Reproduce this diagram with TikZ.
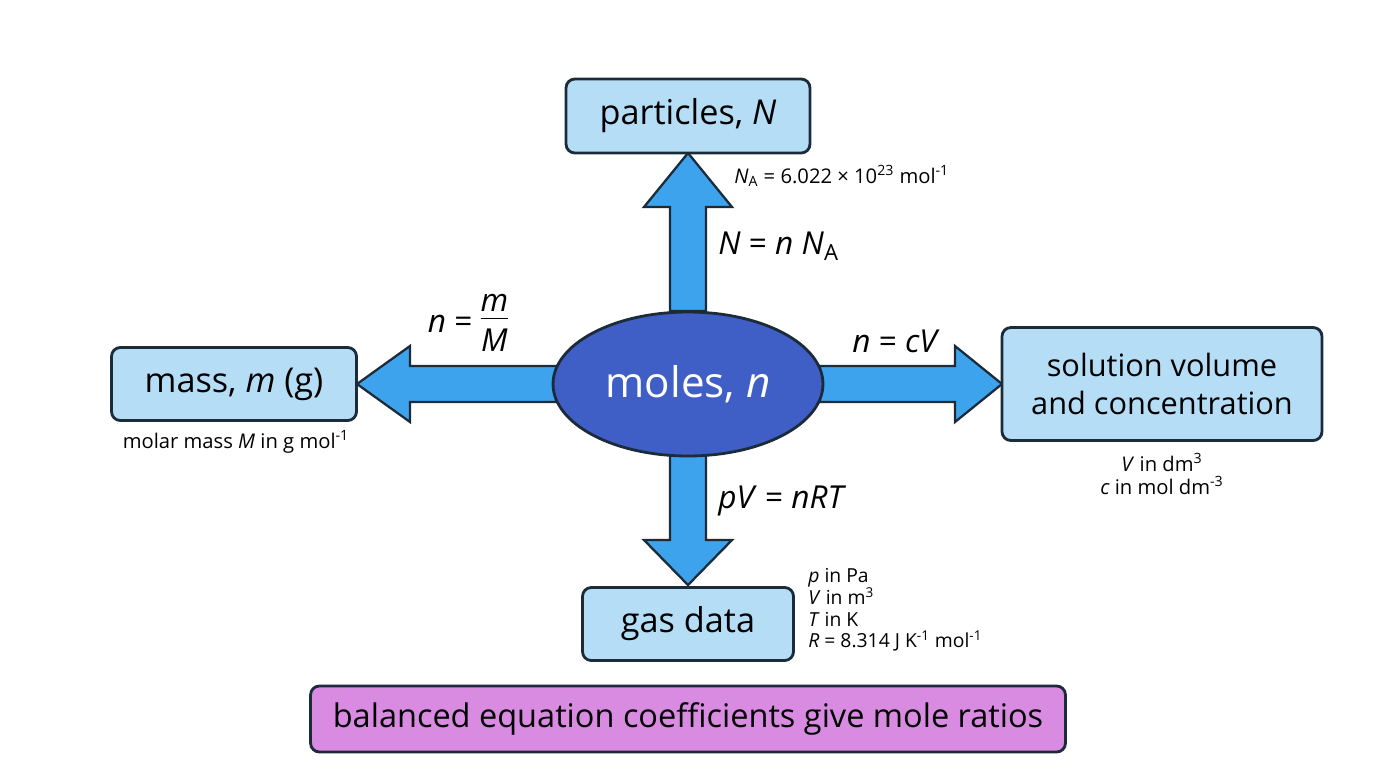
\documentclass[tikz,border=0pt]{standalone}
\usepackage{fontspec}
\setmainfont{Open Sans}
\usetikzlibrary{positioning,shapes.geometric}
\definecolor{boxfill}{HTML}{B5DDF6}
\definecolor{edge}{HTML}{1C2B3A}
\definecolor{molefill}{HTML}{3F5FC6}
\definecolor{arrowfill}{HTML}{3DA3EC}
\definecolor{ratiofill}{HTML}{D98BE2}
\tikzset{
 box/.style={draw=edge,line width=1.6pt,rounded corners=5pt,fill=boxfill,font=\fontsize{19.5}{23}\selectfont,align=center,inner sep=0pt},
 note/.style={font=\fontsize{11.5}{13}\selectfont,align=left,inner sep=0pt},
 eqn/.style={font=\fontsize{18}{21}\selectfont,inner sep=0pt},
 blockarrow/.style={draw=edge,line width=1.3pt,fill=arrowfill,line join=miter}
}
\begin{document}
\begin{tikzpicture}[x=0.02cm,y=-0.02cm]
 \useasboundingbox (0,0) rectangle (1376,768);
 % block arrows
 \draw[blockarrow](670,311)--(670,207)--(644,207)--(688,153)--(732,207)--(706,207)--(706,311)--cycle;
 \draw[blockarrow](556,366)--(410,366)--(410,346)--(357,384)--(410,422)--(410,402)--(556,402)--cycle;
 \draw[blockarrow](820,366)--(955,366)--(955,346)--(1002,384)--(955,422)--(955,402)--(820,402)--cycle;
 \draw[blockarrow](670,454)--(670,540)--(644,540)--(688,585)--(732,540)--(706,540)--(706,454)--cycle;
 % nodes
 \node[ellipse,draw=edge,line width=1.6pt,fill=molefill,minimum width=5.4cm,minimum height=2.88cm,inner sep=0pt,text=white,font=\fontsize{24}{28}\selectfont] (moles) at (688,384) {moles, \textit{n}};
 \node[box,minimum width=4.88cm,minimum height=1.48cm] (particles) at (688,116) {particles, \textit{N}};
 \node[box,minimum width=4.9cm,minimum height=1.46cm] (mass) at (234,384) {mass, \textit{m} (g)};
 \node[box,font=\fontsize{17.5}{22}\selectfont,minimum width=6.4cm,minimum height=2.26cm] (solution) at (1162,384) {solution volume\\and concentration};
 \node[box,minimum width=4.22cm,minimum height=1.46cm] (gas) at (688,624) {gas data};
 \node[box,font=\fontsize{18.5}{22}\selectfont,fill=ratiofill,minimum width=15.1cm,minimum height=1.32cm] (ratio) at (688,719) {balanced equation coefficients give mole ratios};
 % formulas
 \node[eqn,anchor=west] (eqN) at (718,246) {\textit{N} = \textit{n} \textit{N}\textsubscript{A}};
 \node[eqn] (eqm) at (468,325) {\textit{n} = \renewcommand{\arraystretch}{0.9}\setlength{\tabcolsep}{1pt}\begin{tabular}{@{}c@{}}\textit{m}\\[-2pt]\hline\rule{0pt}{19pt}\textit{M}\end{tabular}};
 \node[eqn] (eqc) at (896,341) {\textit{n} = \textit{cV}};
 \node[eqn,anchor=west] (eqg) at (718,501) {\textit{pV} = \textit{nRT}};
 % notes
 \node[note,anchor=west] (nA) at (734,176) {\textit{N}\textsubscript{A} = 6.022 × 10\textsuperscript{23} mol\textsuperscript{-1}};
 \node[note] (nM) at (236,442) {molar mass \textit{M} in g mol\textsuperscript{-1}};
 \node[note,align=center] (nV) at (1162,474) {\textit{V} in dm\textsuperscript{3}\\\textit{c} in mol dm\textsuperscript{-3}};
 \node[note,anchor=north west,font=\fontsize{11}{12.4}\selectfont] (ngas) at (808,568) {\textit{p} in Pa\\\textit{V} in m\textsuperscript{3}\\\textit{T} in K\\\textit{R} = 8.314 J K\textsuperscript{-1} mol\textsuperscript{-1}};
\end{tikzpicture}
\end{document}
